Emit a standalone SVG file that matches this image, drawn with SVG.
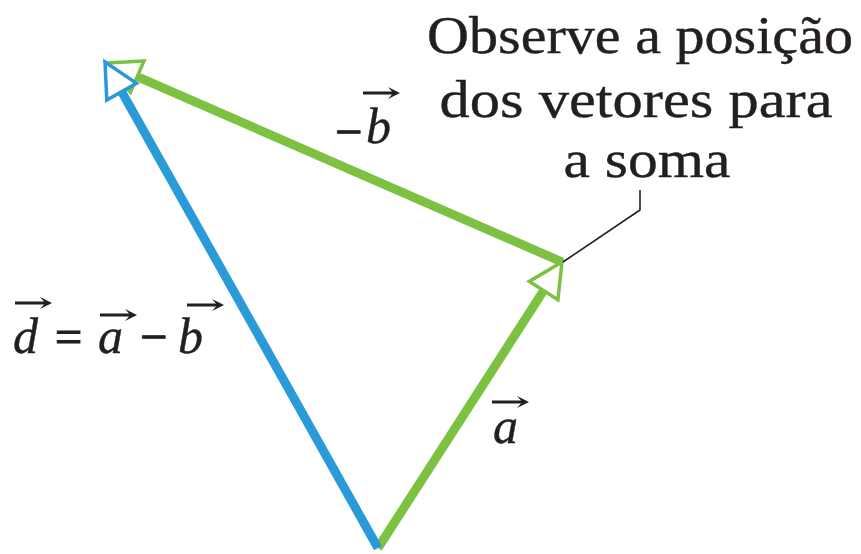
<svg xmlns="http://www.w3.org/2000/svg" xmlns:xlink="http://www.w3.org/1999/xlink" width="861" height="554" viewBox="0 0 861 554">
<style>
.txt{font-family:"Liberation Serif","DejaVu Serif",serif;fill:#231f20}
.lbl{font-size:53px;stroke:#231f20;stroke-width:0.4}
.math{font-size:50px;font-style:italic;stroke:#231f20;stroke-width:0.4}
.op{font-size:48px;font-style:normal;stroke:#231f20;stroke-width:1.2}
.g{stroke:#7dc142;stroke-width:9;fill:none}
.gh{stroke:#7dc142;stroke-width:3.5;fill:#fff;stroke-linejoin:miter}
.b{stroke:#2b9ad8;stroke-width:9;fill:none}
.bh{stroke:#2b9ad8;stroke-width:3.5;fill:#fff;stroke-linejoin:miter}
.lead{stroke:#231f20;stroke-width:1.6;fill:none}
</style>
<defs>
<path id="vec" d="M0,-1.4 H29 L25,-6 L37,0 L25,6 L29,1.4 H0 Z" fill="#231f20"/>
</defs>
<g id="connectors">
<g id="vec-minus-b">
<line class="g" x1="562" y1="262" x2="137.2" y2="76.6"/>
<polygon class="gh" points="106,63 130.4,92.2 144,61"/>
</g>
<g id="vec-a">
<line class="g" x1="378" y1="548" x2="543.6" y2="290.6"/>
<polygon class="gh" points="562,262 557.9,299.8 529.3,281.4"/>
</g>
<g id="vec-d">
<line class="b" x1="378" y1="548" x2="121.6" y2="91.6"/>
<polygon class="bh" points="105,62 136.5,83.3 106.8,100"/>
</g>
<polyline class="lead" points="563,262 640,210 640,190"/>
</g>
<g id="note">
<text class="txt lbl" x="640" y="53" text-anchor="middle" textLength="426" lengthAdjust="spacingAndGlyphs">Observe a posição</text>
<text class="txt lbl" x="636" y="117" text-anchor="middle" textLength="393" lengthAdjust="spacingAndGlyphs">dos vetores para</text>
<text class="txt lbl" x="647" y="177" text-anchor="middle" textLength="167" lengthAdjust="spacingAndGlyphs">a soma</text>
</g>
<g id="label-minus-b">
<text class="txt op" x="335" y="148">−</text>
<text class="txt math" x="366" y="143">b</text>
<use xlink:href="#vec" x="363" y="93"/>
</g>
<g id="label-a">
<text class="txt math" x="493" y="443">a</text>
<use xlink:href="#vec" x="492" y="402"/>
</g>
<g id="label-d">
<text class="txt math" x="13" y="353">d</text>
<use xlink:href="#vec" x="15" y="303"/>
<text class="txt op" x="55" y="353">=</text>
<text class="txt math" x="98" y="353">a</text>
<use xlink:href="#vec" x="100" y="315"/>
<text class="txt op" x="140" y="353">−</text>
<text class="txt math" x="178" y="353">b</text>
<use xlink:href="#vec" x="187" y="305"/>
</g>
</svg>
